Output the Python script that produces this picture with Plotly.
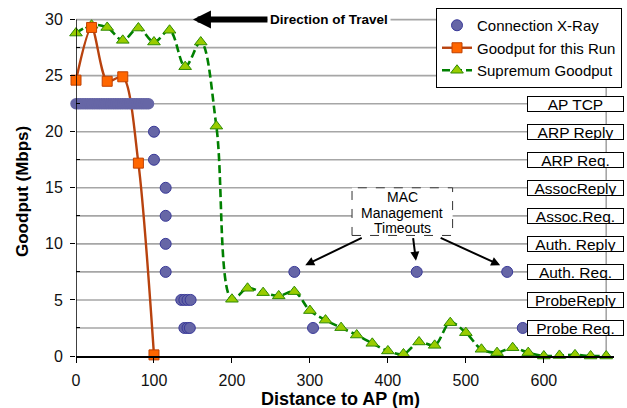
import plotly.graph_objects as go

# ---------------- data ----------------
# Connection X-Ray: dense run of samples in the "AP TCP" state
XRAY_TCP_X = [0, 3, 6, 9, 12, 15, 18, 21, 24, 27, 30, 33, 36, 39, 42, 45, 48, 51, 54,
              57, 60, 63, 66, 69, 72, 75, 78, 81, 84, 87, 90, 93]
XRAY_TCP_Y = [22.5, 22.5, 22.5, 22.5, 22.5, 22.5, 22.5, 22.5, 22.5, 22.5, 22.5, 22.5,
              22.5, 22.5, 22.5, 22.5, 22.5, 22.5, 22.5, 22.5, 22.5, 22.5, 22.5, 22.5,
              22.5, 22.5, 22.5, 22.5, 22.5, 22.5, 22.5, 22.5]
# Connection X-Ray: remaining samples
XRAY_X = [100, 100, 115, 115, 115, 115, 135, 139, 143, 147, 139, 143, 146,
          280, 437, 553, 304, 573]
XRAY_Y = [20, 17.5, 15, 12.5, 10, 7.5, 5, 5, 5, 5, 2.5, 2.5, 2.5,
          7.5, 7.5, 7.5, 2.5, 2.5]

GOODPUT_X = [0, 20, 40, 60, 80, 100]
GOODPUT_Y = [24.6, 29.3, 24.5, 24.9, 17.2, 0.1]

SUPREMUM_X = [0, 20, 40, 60, 80, 100, 120, 140, 160, 180, 200, 220, 240, 260, 280,
              300, 320, 340, 360, 380, 400, 420, 440, 460, 480, 500, 520, 540, 560,
              580, 600, 620, 640, 660, 680]
SUPREMUM_Y = [28.8, 29.5, 29.3, 28.15, 29.25, 28.0, 29.05, 25.8, 28.0, 20.5, 5.06,
              6.04, 5.65, 5.36, 5.74, 4.05, 3.2, 2.53, 1.87, 1.13, 0.45, 0.18, 1.25,
              0.95, 2.97, 2.08, 0.6, 0.3, 0.74, 0.3, 0.0, 0.05, 0.1, 0.0, 0.0]

X_TICKS = [0, 100, 200, 300, 400, 500, 600]
Y_TICKS = [0, 5, 10, 15, 20, 25, 30]
GRID_LEVELS = [2.5, 5, 7.5, 10, 12.5, 15, 17.5, 20, 22.5, 25, 27.5, 30]

STATE_LABELS = ["AP TCP", "ARP Reply", "ARP Req.", "AssocReply", "Assoc.Req.",
                "Auth. Reply", "Auth. Req.", "ProbeReply", "Probe Req."]
STATE_LEVELS = [22.5, 20, 17.5, 15, 12.5, 10, 7.5, 5, 2.5]

MAC_LINES = ["MAC", "Management", "Timeouts"]
MAC_TARGETS_X = [294, 436, 544]
MAC_TARGETS_Y = [8.1, 8.5, 8.1]

FONT = "Liberation Sans, Arial, Helvetica, sans-serif"
XRAY_FILL = "#6666A6"
XRAY_EDGE = "#3A3A99"

fig = go.Figure()

fig.add_trace(go.Scatter(
    x=SUPREMUM_X, y=SUPREMUM_Y, name="Supremum Goodput", legendrank=3,
    mode="lines+markers", line=dict(color="#008000", width=2.6, dash="8px,4px",
                                    shape="spline", smoothing=1.0),
    marker=dict(symbol="triangle-up", size=11, color="#99CC00",
                line=dict(color="#2E8B00", width=1)),
    cliponaxis=False,
))
fig.add_trace(go.Scatter(
    x=GOODPUT_X, y=GOODPUT_Y, name="Goodput for this Run", legendrank=2,
    mode="lines+markers", line=dict(color="#B8420E", width=2.4, shape="spline",
                                    smoothing=0.8),
    marker=dict(symbol="square", size=10, color="#FF6600",
                line=dict(color="#C04000", width=1)),
    cliponaxis=False,
))
fig.add_trace(go.Scatter(
    x=XRAY_TCP_X, y=XRAY_TCP_Y, name="Connection X-Ray", showlegend=False,
    legendgroup="xray", mode="markers",
    marker=dict(symbol="circle", size=11.5, color=XRAY_FILL,
                line=dict(color=XRAY_FILL, width=0)),
    cliponaxis=False,
))
fig.add_trace(go.Scatter(
    x=XRAY_X, y=XRAY_Y, name="Connection X-Ray", legendrank=1, legendgroup="xray",
    mode="markers",
    marker=dict(symbol="circle", size=11, color=XRAY_FILL,
                line=dict(color=XRAY_EDGE, width=1)),
    cliponaxis=False,
))

shapes = []
for lv in GRID_LEVELS:
    shapes.append(dict(type="line", xref="x", yref="y", x0=0, x1=680, y0=lv, y1=lv,
                       line=dict(color="#A6A6A6", width=1.6), layer="below"))
# vertical connector for the state labels
shapes.append(dict(type="line", xref="x", yref="y", x0=680, x1=680, y0=0, y1=30,
                   line=dict(color="#A6A6A6", width=1.6), layer="below"))
# y axis line
shapes.append(dict(type="line", xref="x", yref="y", x0=0, x1=0, y0=0, y1=30,
                   line=dict(color="black", width=1.5), layer="above"))
# MAC management box
shapes.append(dict(type="rect", xref="x", yref="y", x0=354, x1=483, y0=10.75, y1=15.0,
                   line=dict(color="#333333", width=1, dash="dash"),
                   fillcolor="white", layer="below"))

annotations = []
for lab, lv in zip(STATE_LABELS, STATE_LEVELS):
    annotations.append(dict(x=640, y=lv, xref="x", yref="y", text=lab, showarrow=False,
                            font=dict(family=FONT, size=15.5, color="black"),
                            bgcolor="white", bordercolor="black", borderwidth=1,
                            borderpad=0, width=95, height=14, align="center"))

for i, t in enumerate(MAC_LINES):
    annotations.append(dict(x=418.5, y=14.15 - i * 1.36, xref="x", yref="y", text=t,
                            showarrow=False,
                            font=dict(family=FONT, size=14, color="black")))

tails = [(58, -28), (-3, -24), (-61, -28)]
for tx, ty, (ax, ay) in zip(MAC_TARGETS_X, MAC_TARGETS_Y, tails):
    annotations.append(dict(x=tx, y=ty, xref="x", yref="y", ax=ax, ay=ay,
                            axref="pixel", ayref="pixel", text="", showarrow=True,
                            arrowhead=2, arrowsize=0.9, arrowwidth=2,
                            arrowcolor="black"))

# direction of travel
annotations.append(dict(x=150, y=30, xref="x", yref="y", ax=136, ay=0,
                        text="<b>Direction of Travel</b>", showarrow=True,
                        arrowhead=2, arrowsize=0.6, arrowwidth=6, arrowcolor="black",
                        font=dict(family=FONT, size=13.5, color="black"),
                        bgcolor="white", borderpad=2))

# axis titles
annotations.append(dict(x=(340 - 76) / 538, y=(356 - 399) / 342, xref="paper",
                        yref="paper", text="<b>Distance to AP (m)</b>", showarrow=False,
                        yanchor="middle", xanchor="center",
                        font=dict(family=FONT, size=18, color="black")))
annotations.append(dict(x=(22 - 76) / 538, y=(356 - 192) / 342, xref="paper",
                        yref="paper", text="<b>Goodput (Mbps)</b>", showarrow=False,
                        textangle=-90, yanchor="middle", xanchor="center",
                        font=dict(family=FONT, size=17, color="black")))

fig.update_layout(
    width=627, height=408,
    margin=dict(l=76, r=13, t=14, b=52, autoexpand=False),
    paper_bgcolor="white", plot_bgcolor="white",
    font=dict(family=FONT, color="black"),
    showlegend=True,
    legend=dict(x=(622 - 76) / 538, xanchor="right", y=(356 - 8) / 342, yanchor="top",
                bgcolor="white", bordercolor="black", borderwidth=1,
                font=dict(family=FONT, size=15, color="black"),
                tracegroupgap=0, itemwidth=30),
    xaxis=dict(range=[0, 690], tickvals=X_TICKS, showgrid=False, zeroline=False,
               showline=True, linecolor="black", linewidth=1.5, ticks="outside",
               ticklen=5, tickcolor="black", tickwidth=1.2,
               tickfont=dict(family=FONT, size=16, color="#111111"),
               ticklabelstandoff=4),
    yaxis=dict(range=[0, 30.5], tickvals=Y_TICKS, showgrid=False, zeroline=False,
               showline=False, ticks="outside", ticklen=5, tickcolor="black",
               tickwidth=1.2,
               minor=dict(tickvals=[2.5, 7.5, 12.5, 17.5, 22.5, 27.5], ticks="inside",
                          ticklen=4, tickcolor="black", showgrid=False),
               tickfont=dict(family=FONT, size=16, color="#111111"),
               ticklabelstandoff=4),
    shapes=shapes,
    annotations=annotations,
)

fig.write_html("out.html", config={"displayModeBar": False},
               post_script="document.body.style.margin='0px';")
